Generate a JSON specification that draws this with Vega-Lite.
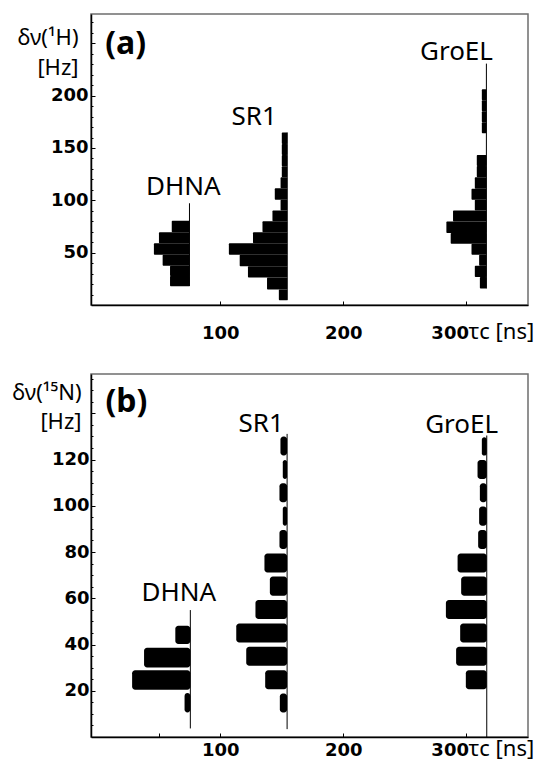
{
  "$schema": "https://vega.github.io/schema/vega-lite/v6.json",
  "background": "white",
  "padding": {"left": 11, "top": 12, "right": 0, "bottom": 0},
  "spacing": 69,
  "bounds": "flush",
  "config": {
    "view": {"stroke": "#6e6e6e", "strokeWidth": 1.5},
    "axis": {
      "domainColor": "black", "domainWidth": 1.5,
      "tickColor": "black", "tickWidth": 1, "grid": false,
      "labelOverlap": false,
      "labelFont": "DejaVu Sans", "labelFontWeight": "bold", "labelFontSize": 18, "labelColor": "black",
      "titleFont": "Noto Sans", "titleFontWeight": "normal", "titleFontSize": 22, "titleColor": "black"
    },
    "text": {"font": "Noto Sans", "color": "black"}
  },
  "datasets": {
    "bars_a": [
      {"protein": "DHNA", "lo": 69.6, "hi": 80.4, "left": 60.6, "base": 75},
      {"protein": "DHNA", "lo": 58.9, "hi": 69.6, "left": 50.2, "base": 75},
      {"protein": "DHNA", "lo": 48.1, "hi": 58.9, "left": 46.1, "base": 75},
      {"protein": "DHNA", "lo": 37.6, "hi": 48.1, "left": 53.2, "base": 75},
      {"protein": "DHNA", "lo": 27.8, "hi": 37.6, "left": 59.2, "base": 75},
      {"protein": "DHNA", "lo": 18.0, "hi": 27.8, "left": 59.2, "base": 75},
      {"protein": "SR1", "lo": 153.9, "hi": 164.9, "left": 150.0, "base": 154.4},
      {"protein": "SR1", "lo": 143.2, "hi": 153.9, "left": 150.0, "base": 154.4},
      {"protein": "SR1", "lo": 132.6, "hi": 143.2, "left": 150.0, "base": 154.4},
      {"protein": "SR1", "lo": 122.0, "hi": 132.6, "left": 150.0, "base": 154.4},
      {"protein": "SR1", "lo": 111.6, "hi": 122.0, "left": 149.0, "base": 154.4},
      {"protein": "SR1", "lo": 100.5, "hi": 111.6, "left": 144.3, "base": 154.4},
      {"protein": "SR1", "lo": 90.3, "hi": 100.5, "left": 149.0, "base": 154.4},
      {"protein": "SR1", "lo": 80.1, "hi": 90.3, "left": 142.4, "base": 154.4},
      {"protein": "SR1", "lo": 69.6, "hi": 80.1, "left": 134.3, "base": 154.4},
      {"protein": "SR1", "lo": 59.1, "hi": 69.6, "left": 126.6, "base": 154.4},
      {"protein": "SR1", "lo": 48.1, "hi": 59.1, "left": 107.0, "base": 154.4},
      {"protein": "SR1", "lo": 37.0, "hi": 48.1, "left": 115.8, "base": 154.4},
      {"protein": "SR1", "lo": 26.2, "hi": 37.0, "left": 122.5, "base": 154.4},
      {"protein": "SR1", "lo": 14.8, "hi": 26.2, "left": 138.0, "base": 154.4},
      {"protein": "SR1", "lo": 4.6, "hi": 14.8, "left": 147.6, "base": 154.4},
      {"protein": "GroEL", "lo": 195.5, "hi": 206.2, "left": 312.5, "base": 316.2},
      {"protein": "GroEL", "lo": 185.0, "hi": 195.5, "left": 312.5, "base": 316.2},
      {"protein": "GroEL", "lo": 174.5, "hi": 185.0, "left": 312.5, "base": 316.2},
      {"protein": "GroEL", "lo": 164.0, "hi": 174.5, "left": 312.5, "base": 316.2},
      {"protein": "GroEL", "lo": 132.8, "hi": 143.3, "left": 308.4, "base": 316.2},
      {"protein": "GroEL", "lo": 122.0, "hi": 132.8, "left": 308.4, "base": 316.2},
      {"protein": "GroEL", "lo": 111.0, "hi": 122.0, "left": 306.8, "base": 316.2},
      {"protein": "GroEL", "lo": 100.5, "hi": 111.0, "left": 304.1, "base": 316.2},
      {"protein": "GroEL", "lo": 90.3, "hi": 100.5, "left": 306.8, "base": 316.2},
      {"protein": "GroEL", "lo": 79.8, "hi": 90.3, "left": 289.1, "base": 316.2},
      {"protein": "GroEL", "lo": 68.7, "hi": 79.8, "left": 283.7, "base": 316.2},
      {"protein": "GroEL", "lo": 58.6, "hi": 68.7, "left": 287.2, "base": 316.2},
      {"protein": "GroEL", "lo": 48.1, "hi": 58.6, "left": 304.1, "base": 316.2},
      {"protein": "GroEL", "lo": 37.6, "hi": 48.1, "left": 310.3, "base": 316.2},
      {"protein": "GroEL", "lo": 26.8, "hi": 37.6, "left": 306.8, "base": 316.2},
      {"protein": "GroEL", "lo": 15.7, "hi": 26.8, "left": 310.9, "base": 316.2}
    ],
    "lines_a": [
      {"protein": "DHNA", "base": 75, "lo": 18.0, "hi": 97.2},
      {"protein": "SR1", "base": 154.4, "lo": 4.6, "hi": 164.9},
      {"protein": "GroEL", "base": 316.2, "lo": 15.7, "hi": 230.6}
    ],
    "labels_a": [
      {"label": "(a)", "kind": "panel", "x": 23.1, "y": 249.8},
      {"label": "DHNA", "kind": "protein", "x": 70.0, "y": 113.1},
      {"label": "SR1", "kind": "protein", "x": 127.6, "y": 179.3},
      {"label": "GroEL", "kind": "protein", "x": 291.9, "y": 241.7}
    ],
    "bars_b": [
      {"protein": "DHNA", "lo": 40.2, "hi": 48.1, "left": 63.5, "base": 75.7},
      {"protein": "DHNA", "lo": 30.1, "hi": 38.6, "left": 38.1, "base": 75.7},
      {"protein": "DHNA", "lo": 20.4, "hi": 28.9, "left": 28.4, "base": 75.7},
      {"protein": "DHNA", "lo": 10.6, "hi": 19.0, "left": 71.0, "base": 75.7},
      {"protein": "SR1", "lo": 121.7, "hi": 130.0, "left": 148.9, "base": 154.3},
      {"protein": "SR1", "lo": 111.6, "hi": 119.8, "left": 150.8, "base": 154.3},
      {"protein": "SR1", "lo": 101.5, "hi": 109.7, "left": 148.1, "base": 154.3},
      {"protein": "SR1", "lo": 91.4, "hi": 99.7, "left": 150.8, "base": 154.3},
      {"protein": "SR1", "lo": 81.3, "hi": 89.5, "left": 148.1, "base": 154.3},
      {"protein": "SR1", "lo": 71.2, "hi": 79.4, "left": 135.9, "base": 154.3},
      {"protein": "SR1", "lo": 61.1, "hi": 69.4, "left": 140.3, "base": 154.3},
      {"protein": "SR1", "lo": 51.0, "hi": 59.2, "left": 128.6, "base": 154.3},
      {"protein": "SR1", "lo": 40.9, "hi": 49.1, "left": 113.0, "base": 154.3},
      {"protein": "SR1", "lo": 30.8, "hi": 39.0, "left": 121.1, "base": 154.3},
      {"protein": "SR1", "lo": 20.7, "hi": 28.9, "left": 136.5, "base": 154.3},
      {"protein": "SR1", "lo": 10.6, "hi": 18.8, "left": 148.4, "base": 154.3},
      {"protein": "GroEL", "lo": 121.7, "hi": 129.6, "left": 312.5, "base": 316.5},
      {"protein": "GroEL", "lo": 111.6, "hi": 119.8, "left": 309.0, "base": 316.5},
      {"protein": "GroEL", "lo": 101.5, "hi": 109.7, "left": 310.9, "base": 316.5},
      {"protein": "GroEL", "lo": 91.4, "hi": 99.7, "left": 310.3, "base": 316.5},
      {"protein": "GroEL", "lo": 81.3, "hi": 89.5, "left": 309.5, "base": 316.5},
      {"protein": "GroEL", "lo": 71.2, "hi": 79.4, "left": 292.8, "base": 316.5},
      {"protein": "GroEL", "lo": 61.1, "hi": 69.4, "left": 295.7, "base": 316.5},
      {"protein": "GroEL", "lo": 51.0, "hi": 59.2, "left": 283.3, "base": 316.5},
      {"protein": "GroEL", "lo": 40.9, "hi": 49.1, "left": 294.9, "base": 316.5},
      {"protein": "GroEL", "lo": 30.8, "hi": 39.0, "left": 291.6, "base": 316.5},
      {"protein": "GroEL", "lo": 20.7, "hi": 28.9, "left": 299.5, "base": 316.5}
    ],
    "lines_b": [
      {"protein": "DHNA", "base": 75.7, "lo": 3.7, "hi": 54.9},
      {"protein": "SR1", "base": 154.3, "lo": 3.4, "hi": 131.1},
      {"protein": "GroEL", "base": 316.5, "lo": 0, "hi": 130.4}
    ],
    "labels_b": [
      {"label": "(b)", "kind": "panel", "x": 23.8, "y": 144.8},
      {"label": "SR1", "kind": "protein", "x": 133.3, "y": 135.4},
      {"label": "DHNA", "kind": "protein", "x": 66.3, "y": 62.4},
      {"label": "GroEL", "kind": "protein", "x": 296.1, "y": 135.1}
    ]
  },
  "vconcat": [
    {
      "width": 437,
      "height": 291,
      "layer": [
        {
          "data": {"name": "bars_a"},
          "mark": {"type": "rect", "color": "black", "cornerRadius": 1},
          "encoding": {
            "x": {
              "field": "left", "type": "quantitative",
              "scale": {"domain": [-5, 350], "nice": false, "zero": false},
              "axis": {
                "values": [100, 200, 300],
                "tickCount": 1000,
                "format": "d",
                "labelOverlap": false,
                "tickSize": -4,
                "labelPadding": 37,
                "labelBaseline": "alphabetic",
                "labelAlign": {"condition": {"test": "datum.value === 300", "value": "right"}, "value": "center"},
                "labelOffset": {"condition": {"test": "datum.value === 300", "value": 2}, "value": 0},
                "title": "τc [ns]",
                "titleAlign": "left",
                "titleBaseline": "alphabetic",
                "titleX": 377,
                "titleY": 33
              }
            },
            "x2": {"field": "base"},
            "y": {
              "field": "lo", "type": "quantitative",
              "scale": {"domain": [0, 278], "nice": false, "zero": false},
              "axis": {
                "values": [10, 20, 30, 40, 50, 60, 70, 80, 90, 100, 110, 120, 130, 140, 150, 160, 170, 180, 190, 200, 210, 220, 230, 240, 250, 260, 270],
                "tickCount": 1000,
                "format": "d",
                "labelOverlap": false,
                "labelExpr": "datum.value % 50 === 0 && datum.value <= 200 ? datum.label : ''",
                "tickSize": {"condition": {"test": "datum.value % 50 === 0", "value": -4}, "value": -2},
                "labelPadding": 7,
                "title": ["δν(¹H)", "[Hz]"],
                "titleAngle": 0,
                "titleAlign": "right",
                "titleBaseline": "top",
                "titleX": -13,
                "titleY": 13,
                "titleLineHeight": 30
              }
            },
            "y2": {"field": "hi"}
          }
        },
        {
          "data": {"name": "lines_a"},
          "mark": {"type": "rule", "color": "black", "strokeWidth": 1},
          "encoding": {
            "x": {"field": "base", "type": "quantitative", "scale": {"domain": [-5, 350], "nice": false, "zero": false}},
            "y": {"field": "lo", "type": "quantitative", "scale": {"domain": [0, 278], "nice": false, "zero": false}},
            "y2": {"field": "hi"}
          }
        },
        {
          "data": {"name": "labels_a"},
          "transform": [{"filter": "datum.kind === 'protein'"}],
          "mark": {"type": "text", "align": "center", "baseline": "middle", "fontSize": 26},
          "encoding": {
            "x": {"field": "x", "type": "quantitative", "scale": {"domain": [-5, 350], "nice": false, "zero": false}},
            "y": {"field": "y", "type": "quantitative", "scale": {"domain": [0, 278], "nice": false, "zero": false}},
            "text": {"field": "label"}
          }
        },
        {
          "data": {"name": "labels_a"},
          "transform": [{"filter": "datum.kind === 'panel'"}],
          "mark": {"type": "text", "align": "center", "baseline": "middle", "fontSize": 32, "fontWeight": "bold"},
          "encoding": {
            "x": {"field": "x", "type": "quantitative", "scale": {"domain": [-5, 350], "nice": false, "zero": false}},
            "y": {"field": "y", "type": "quantitative", "scale": {"domain": [0, 278], "nice": false, "zero": false}},
            "text": {"field": "label"}
          }
        }
      ]
    },
    {
      "width": 437,
      "height": 363,
      "layer": [
        {
          "data": {"name": "bars_b"},
          "mark": {"type": "rect", "color": "black", "cornerRadius": 3},
          "encoding": {
            "x": {
              "field": "left", "type": "quantitative",
              "scale": {"domain": [-5, 350], "nice": false, "zero": false},
              "axis": {
                "values": [50, 100, 200, 300],
                "tickCount": 1000,
                "format": "d",
                "labelOverlap": false,
                "labelExpr": "datum.value === 50 ? '' : datum.label",
                "tickSize": -4,
                "labelPadding": 22,
                "labelBaseline": "alphabetic",
                "labelAlign": {"condition": {"test": "datum.value === 300", "value": "right"}, "value": "center"},
                "labelOffset": {"condition": {"test": "datum.value === 300", "value": 2}, "value": 0},
                "title": "τc [ns]",
                "titleAlign": "left",
                "titleBaseline": "alphabetic",
                "titleX": 377,
                "titleY": 18
              }
            },
            "x2": {"field": "base"},
            "y": {
              "field": "lo", "type": "quantitative",
              "scale": {"domain": [0, 157], "nice": false, "zero": false},
              "axis": {
                "values": [5, 10, 15, 20, 25, 30, 35, 40, 45, 50, 55, 60, 65, 70, 75, 80, 85, 90, 95, 100, 105, 110, 115, 120, 125, 130, 135, 140, 145, 150, 155],
                "tickCount": 1000,
                "format": "d",
                "labelOverlap": false,
                "labelExpr": "datum.value % 20 === 0 && datum.value <= 120 ? datum.label : ''",
                "tickSize": {"condition": {"test": "datum.value % 20 === 0", "value": -4}, "value": -2},
                "labelPadding": 6,
                "title": ["δν(¹⁵N)", "[Hz]"],
                "titleAngle": 0,
                "titleAlign": "right",
                "titleBaseline": "top",
                "titleX": -10,
                "titleY": 8,
                "titleLineHeight": 29
              }
            },
            "y2": {"field": "hi"}
          }
        },
        {
          "data": {"name": "lines_b"},
          "mark": {"type": "rule", "color": "black", "strokeWidth": 1},
          "encoding": {
            "x": {"field": "base", "type": "quantitative", "scale": {"domain": [-5, 350], "nice": false, "zero": false}},
            "y": {"field": "lo", "type": "quantitative", "scale": {"domain": [0, 157], "nice": false, "zero": false}},
            "y2": {"field": "hi"}
          }
        },
        {
          "data": {"name": "labels_b"},
          "transform": [{"filter": "datum.kind === 'protein'"}],
          "mark": {"type": "text", "align": "center", "baseline": "middle", "fontSize": 26},
          "encoding": {
            "x": {"field": "x", "type": "quantitative", "scale": {"domain": [-5, 350], "nice": false, "zero": false}},
            "y": {"field": "y", "type": "quantitative", "scale": {"domain": [0, 157], "nice": false, "zero": false}},
            "text": {"field": "label"}
          }
        },
        {
          "data": {"name": "labels_b"},
          "transform": [{"filter": "datum.kind === 'panel'"}],
          "mark": {"type": "text", "align": "center", "baseline": "middle", "fontSize": 32, "fontWeight": "bold"},
          "encoding": {
            "x": {"field": "x", "type": "quantitative", "scale": {"domain": [-5, 350], "nice": false, "zero": false}},
            "y": {"field": "y", "type": "quantitative", "scale": {"domain": [0, 157], "nice": false, "zero": false}},
            "text": {"field": "label"}
          }
        }
      ]
    }
  ]
}
